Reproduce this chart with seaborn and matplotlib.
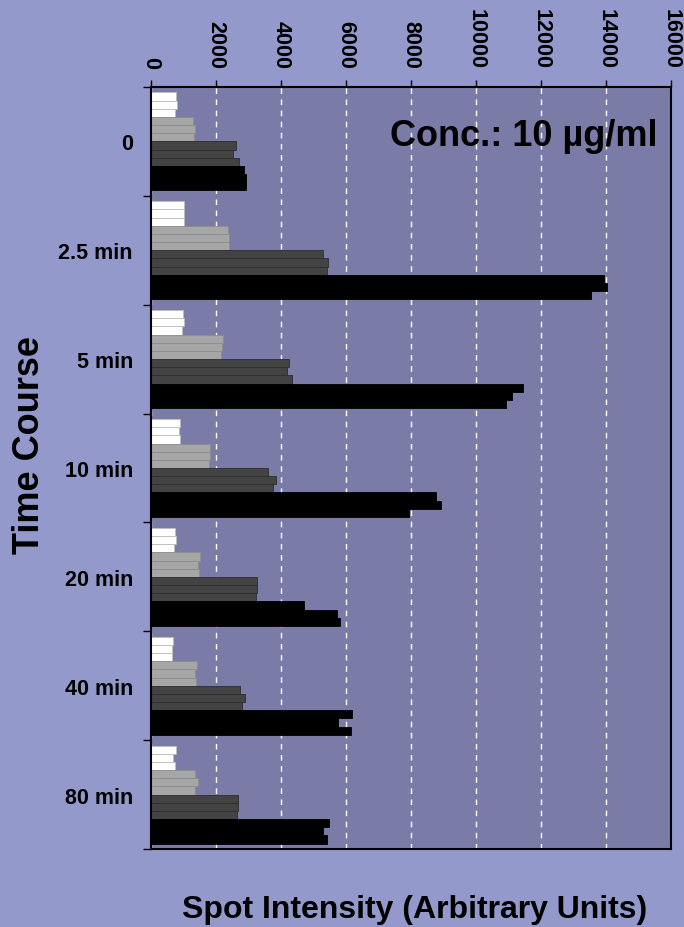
#### Spot intensity over a time course, horizontal grouped bars ####
import numpy as np
import pandas as pd
import matplotlib
matplotlib.use('Agg')
import matplotlib.pyplot as plt
from matplotlib.ticker import FixedLocator
import seaborn as sns

# Values (3 replicates per series, per time point)
times = ['0', '2.5 min', '5 min', '10 min', '20 min', '40 min', '80 min']
white_vals = [[770, 800, 750], [1005, 1005, 1005], [975, 1005, 945], [890, 850, 900],
              [730, 760, 710], [665, 645, 645], [770, 690, 740]]
gray_vals = [[1300, 1365, 1335], [2380, 2410, 2410], [2215, 2195, 2165], [1825, 1805, 1795],
             [1520, 1435, 1490], [1405, 1365, 1385], [1365, 1445, 1365]]
dark_vals = [[2615, 2525, 2710], [5285, 5440, 5420], [4240, 4185, 4350], [3610, 3850, 3755],
             [3265, 3265, 3240], [2750, 2885, 2790], [2680, 2680, 2635]]
black_vals = [[2850, 2915, 2925], [13950, 14035, 13545], [11440, 11110, 10930], [8770, 8935, 7950],
              [4720, 5735, 5830], [6175, 5755, 6165], [5490, 5305, 5415]]
x_ticks = [0, 2000, 4000, 6000, 8000, 10000, 12000, 14000, 16000]

series = [('white', white_vals, '#FFFFFF', '#BDBDBD'),
          ('gray', gray_vals, '#A6A6A6', '#8E8E8E'),
          ('dark', dark_vals, '#434343', '#2E2E2E'),
          ('black', black_vals, '#000000', '#000000')]

# long table for seaborn
rows = []
palette = {}
edge_of = {}
hue_order = []
for name, vals, face, edge in series:
    for rep in range(3):
        key = f'{name}-{rep + 1}'
        hue_order.append(key)
        palette[key] = face
        edge_of[matplotlib.colors.to_hex(face)] = edge
        for t, v in zip(times, vals):
            rows.append({'time': t, 'bar': key, 'value': v[rep]})
df = pd.DataFrame(rows)

sns.set_theme(style='white')
plt.rcParams['font.family'] = ['Liberation Sans', 'DejaVu Sans']
plt.rcParams['font.weight'] = 'bold'

fig = plt.figure(figsize=(6.84, 9.28), dpi=100)
fig.patch.set_facecolor('#9499CB')
ax = fig.add_axes([151 / 684, 78 / 928, 520 / 684, 762 / 928])
ax.set_facecolor('#7B7BA8')

sns.barplot(data=df, x='value', y='time', hue='bar', order=times, hue_order=hue_order,
            palette=palette, orient='h', width=0.9, dodge=True, errorbar=None,
            saturation=1, legend=False, ax=ax)

for p in ax.patches:
    fc = matplotlib.colors.to_hex(p.get_facecolor())
    p.set_edgecolor(edge_of.get(fc, '#000000'))
    p.set_linewidth(0.6)

ax.set_xlim(0, 16000)
ax.set_ylim(len(times) - 0.5, -0.5)
ax.set_xticks(x_ticks)
ax.xaxis.grid(True, color='white', linestyle=(0, (4, 4)), linewidth=1)
ax.yaxis.grid(False)
ax.set_axisbelow(True)

# x ticks on top, labels rotated
ax.xaxis.tick_top()
ax.tick_params(axis='x', which='major', direction='out', length=5, width=1, color='black',
               pad=9, labelsize=15.5, labelrotation=-90, top=True, bottom=False,
               labeltop=True, labelbottom=False, labelcolor='black')

# y labels centred, tick marks on group boundaries
ax.yaxis.set_minor_locator(FixedLocator(np.arange(-0.5, len(times), 1)))
ax.tick_params(axis='y', which='major', length=0, pad=13, labelsize=15.5, labelcolor='black')
ax.tick_params(axis='y', which='minor', left=True, direction='out', length=6, width=1, color='black')

for s in ax.spines.values():
    s.set_visible(True)
    s.set_color('black')
    s.set_linewidth(1.5)

ax.set_xlabel('')
ax.set_ylabel('')
fig.text(30 / 684, 1 - 445 / 928, 'Time Course', rotation=90, ha='center', va='center',
         fontsize=26, fontweight='bold', color='black')
fig.text(415 / 684, 1 - 910 / 928, 'Spot Intensity (Arbitrary Units)', ha='center', va='center',
         fontsize=23, fontweight='bold', color='black')
ax.text(0.975, 0.936, 'Conc.: 10 µg/ml', transform=ax.transAxes, ha='right', va='center',
        fontsize=26, fontweight='bold', color='black')

plt.savefig('out.png', dpi=100, facecolor=fig.get_facecolor())
